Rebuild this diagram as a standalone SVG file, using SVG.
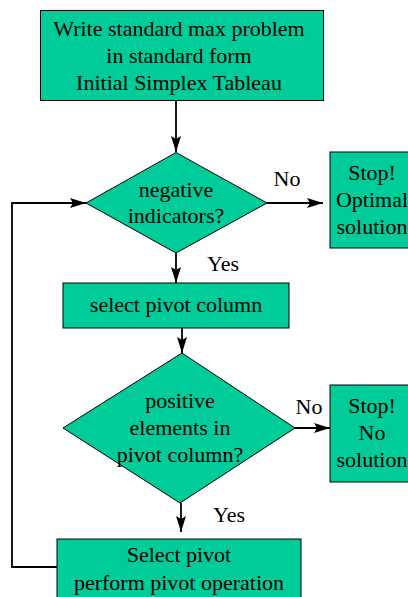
<svg xmlns="http://www.w3.org/2000/svg" width="408" height="597" viewBox="0 0 408 597">
<defs>
<marker id="ah" viewBox="0 0 16 10" refX="16" refY="5" markerWidth="16" markerHeight="10" markerUnits="userSpaceOnUse" orient="auto">
<path d="M0,0 L16,5 L0,10 L3,5 Z" fill="#000"/>
</marker>
<style>
.n{fill:#00cc99;stroke:#000;stroke-width:1}
.t{font-family:"Liberation Serif","Times New Roman",serif;font-size:22px;fill:#000;text-anchor:middle}
.c{fill:none;stroke:#000;stroke-width:1.8}
</style>
</defs>
<rect width="408" height="597" fill="#fff"/>
<g id="connectors">
<line class="c" x1="176" y1="100" x2="176" y2="152" marker-end="url(#ah)"/>
<line class="c" x1="267" y1="203" x2="323" y2="203" marker-end="url(#ah)"/>
<line class="c" x1="176" y1="253" x2="176" y2="283" marker-end="url(#ah)"/>
<line class="c" x1="182" y1="328" x2="182" y2="353" marker-end="url(#ah)"/>
<line class="c" x1="295" y1="428" x2="330" y2="428" marker-end="url(#ah)"/>
<line class="c" x1="181" y1="503" x2="181" y2="532" marker-end="url(#ah)"/>
<polyline class="c" points="57,567 12,567 12,203 86,203" marker-end="url(#ah)"/>
<text class="t" x="287" y="186">No</text>
<text class="t" x="223" y="271">Yes</text>
<text class="t" x="309" y="414">No</text>
<text class="t" x="229" y="522">Yes</text>
</g>
<g id="start">
<rect class="n" x="40.5" y="10.5" width="283" height="90"/>
<text class="t" x="179" y="36">Write standard max problem</text>
<text class="t" x="179" y="63">in standard form</text>
<text class="t" x="179" y="90">Initial Simplex Tableau</text>
</g>
<g id="neg">
<polygon class="n" points="176,152.5 267,203 176,253 86,203"/>
<text class="t" x="176" y="197">negative</text>
<text class="t" x="176" y="223">indicators?</text>
</g>
<g id="stop1">
<rect class="n" x="330" y="152" width="84" height="96"/>
<text class="t" x="372" y="180">Stop!</text>
<text class="t" x="372" y="207">Optimal</text>
<text class="t" x="372" y="234">solution</text>
</g>
<g id="col">
<rect class="n" x="63" y="283" width="226" height="45"/>
<text class="t" x="176" y="312">select pivot column</text>
</g>
<g id="pos">
<polygon class="n" points="182,353 295,428 180,503 63,428"/>
<text class="t" x="180" y="408">positive</text>
<text class="t" x="180" y="435">elements in</text>
<text class="t" x="180" y="462">pivot column?</text>
</g>
<g id="stop2">
<rect class="n" x="330" y="385" width="84" height="97"/>
<text class="t" x="372" y="413">Stop!</text>
<text class="t" x="372" y="440">No</text>
<text class="t" x="372" y="467">solution</text>
</g>
<g id="pivot">
<rect class="n" x="57" y="539" width="244" height="70"/>
<text class="t" x="179" y="562">Select pivot</text>
<text class="t" x="179" y="590">perform pivot operation</text>
</g>
</svg>
